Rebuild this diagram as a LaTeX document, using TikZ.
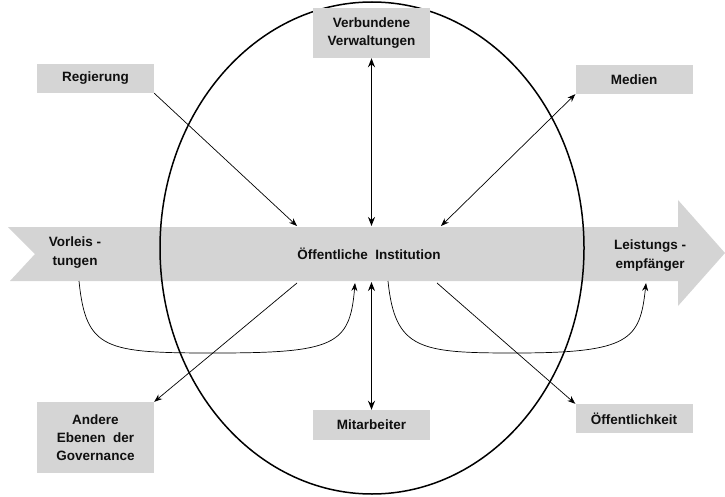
\documentclass[tikz,border=0pt]{standalone}
\usepackage{fontspec}
\setmainfont{Liberation Sans}
\usetikzlibrary{arrows.meta}
\definecolor{boxgray}{RGB}{213, 213, 213}
\definecolor{bandgray}{RGB}{212, 212, 212}
\definecolor{textdark}{RGB}{15, 15, 15}

\begin{document}
\begin{tikzpicture}[
        x=1pt, y=-1pt,
        actor/.style={rectangle, fill=boxgray, minimum width=117pt, text=textdark, align=center, inner sep=0pt, font=\fontsize{13.5}{18}\selectfont\bfseries},
        bandtext/.style={text=textdark, align=center, inner sep=0pt, font=\fontsize{13.5}{19}\selectfont\bfseries},
        thinflow/.style={-{Stealth[length=8pt, width=6pt]}, line width=0.7pt},
        thinboth/.style={{Stealth[length=8pt, width=6pt]}-{Stealth[length=8pt, width=6pt]}, line width=0.7pt},
        thickboth/.style={{Stealth[length=9pt, width=7pt]}-{Stealth[length=9pt, width=7pt]}, line width=1.6pt}
    ]
    \useasboundingbox (0,0) rectangle (725,497);

    % Process band
    \fill[bandgray] (8,227) -- (678,227) -- (678,200) -- (725,253) -- (678,306)
        -- (678,281) -- (10,281) -- (35,254) -- cycle;

    % Institution boundary
    \draw[line width=1.5pt] (372,248) ellipse [x radius=212, y radius=246];

    % Band texts
    \node[bandtext] (vorl) at (75,253) {Vorleis -\\tungen};
    \node[bandtext] (inst) at (369,254) {Öffentliche~ Institution};
    \node[bandtext] (leist) at (650,256) {Leistungs -\\empfänger};

    % Actors
    \node[actor, minimum height=50pt] (verb) at (371.5,33) {Verbundene\\Verwaltungen};
    \node[actor, minimum height=29pt] (reg) at (95.5,78.5) {Regierung};
    \node[actor, minimum height=29pt] (med) at (634,79.5) {Medien};
    \node[actor, minimum height=71pt] (ande) at (95.5,437.5) {Andere\\Ebenen~ der\\Governance};
    \node[actor, minimum height=30pt] (mita) at (371.5,425) {Mitarbeiter};
    \node[actor, minimum height=29pt] (oeff) at (634,418.5) {Öffentlichkeit};

    % Band attachment points
    \coordinate (regend) at (297,226);
    \coordinate (medend) at (441,226);
    \coordinate (verbend) at (371.5,226);
    \coordinate (mitaend) at (371.5,282);
    \coordinate (andestart) at (297,283);
    \coordinate (oeffstart) at (437,283);
    \coordinate (vorlstart) at (79,281);
    \coordinate (lefttip) at (355,283);
    \coordinate (rightstart) at (388,281);
    \coordinate (righttip) at (646,283);

    % Flows into the institution
    \draw[thinflow] (reg.south east) -- (regend);
    \draw[thickboth] (verb.south) -- (verbend);
    \draw[thinboth] (medend) -- (med.south west);

    % Flows out of the institution
    \draw[thinflow] (andestart) -- (ande.north east);
    \draw[thickboth] (mitaend) -- (mita.north);
    \draw[thinflow] (oeffstart) -- (oeff.north west);

    % Inputs and outputs
    \draw[thinflow] (vorlstart) .. controls (86,350) and (105,353) .. (215,353)
        .. controls (335,353) and (350,345) .. (lefttip);
    \draw[thinflow] (rightstart) .. controls (395,350) and (420,353) .. (515,353)
        .. controls (630,353) and (640,340) .. (righttip);

\end{tikzpicture}
\end{document}
